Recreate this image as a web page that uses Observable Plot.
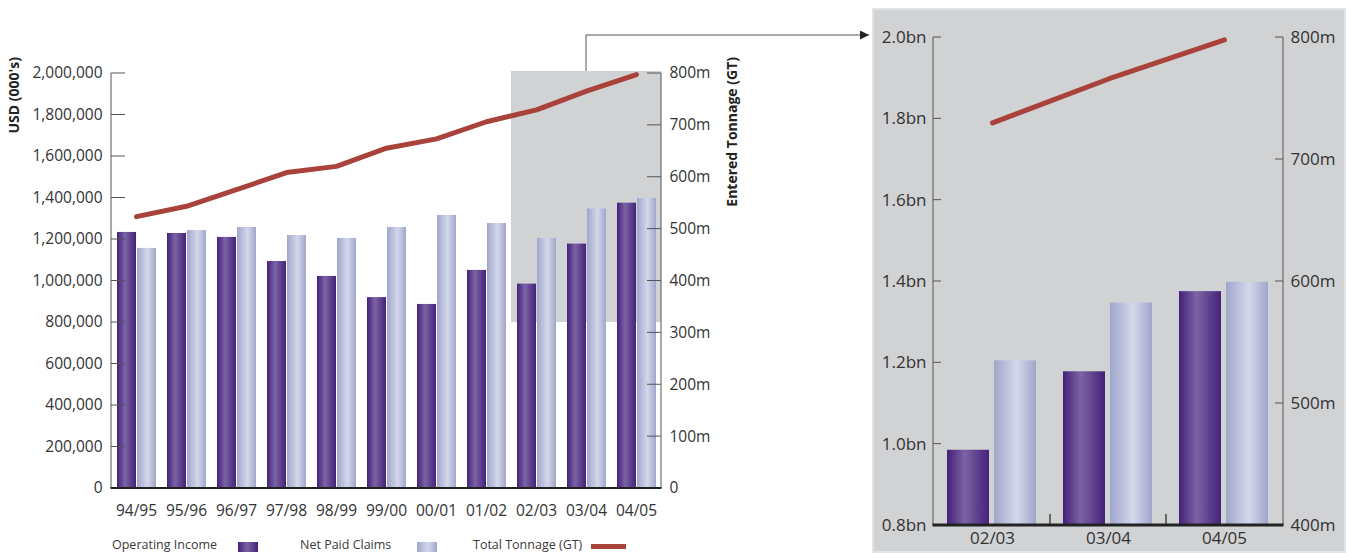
<!DOCTYPE html>
<html><head><meta charset="utf-8">
<script src="https://cdn.jsdelivr.net/npm/d3@7"></script>
<script src="https://cdn.jsdelivr.net/npm/@observablehq/plot@0.6"></script>
<style>
body{margin:0;background:#fff;font-family:"Open Sans",sans-serif;}
#root{position:relative;width:1346px;height:553px;overflow:hidden;background:#fff;}
#left{position:absolute;left:0;top:0;}
#right{position:absolute;left:872px;top:8px;width:474px;height:545px;background:#d1d2d4;box-shadow:inset 0 0 0 2px #e2e3e5;}
#overlay{position:absolute;left:0;top:0;pointer-events:none;}
.lg{position:absolute;top:536px;font-size:12.5px;line-height:18px;color:#3a3a3a;white-space:nowrap;}
.sw{position:absolute;}
</style></head><body><div id="root">
<div id="left"></div>
<div id="right"></div>
<svg id="overlay" width="1346" height="553"></svg>
<div class="lg" style="left:112px">Operating Income</div>
<div class="sw" style="left:238px;top:542px;width:20px;height:10px;background:linear-gradient(90deg,#45217a,#7a63a4 45%,#45217a)"></div>
<div class="lg" style="left:300px">Net Paid Claims</div>
<div class="sw" style="left:417px;top:542px;width:20px;height:10px;background:linear-gradient(90deg,#a1a7cb,#d3d6ea 55%,#a1a7cb)"></div>
<div class="lg" style="left:473px">Total Tonnage (GT)</div>
<div class="sw" style="left:591px;top:544px;width:35px;height:5px;background:#a8423a"></div>
</div>
<script>
// ---- data (USD 000's, tonnage in millions GT) ----
const years = ["94/95","95/96","96/97","97/98","98/99","99/00","00/01","01/02","02/03","03/04","04/05"];
const operatingIncome = [1234000,1229000,1210000,1094000,1022000,920000,887000,1051000,985000,1178000,1375000];
const netPaidClaims = [1157000,1243000,1258000,1219000,1205000,1258000,1316000,1277000,1205000,1347000,1398000];
const tonnage = [524,544,576,609,621,656,674,707,730,766,798];
const zoomYears = ["02/03","03/04","04/05"];
const usdTicks = [0,200000,400000,600000,800000,1000000,1200000,1400000,1600000,1800000,2000000];
const tonnageTicks = [0,100,200,300,400,500,600,700,800];
const usdZoomTicks = [800000,1000000,1200000,1400000,1600000,1800000,2000000];
const tonnageZoomTicks = [400,500,600,700,800];

const data = years.map((year,i)=>({year, income: operatingIncome[i], claims: netPaidClaims[i], tonnage: tonnage[i]}));
const zoomData = data.filter(d => zoomYears.includes(d.year));

const LINE = "#a8423a";
const leftT = t => t * 2500;                     // 0..800m -> 0..2,000,000
const zoomT = t => 800000 + (t - 400) * 3000;     // 400..800m -> 0.8..2.0bn

const defs = () => {
  const d = d3.create("svg:defs");
  const g1 = d.append("linearGradient").attr("id","gDark").attr("x1",0).attr("x2",1).attr("y1",0).attr("y2",0);
  [[0,"#44207a"],[0.42,"#7b64a5"],[1,"#45217a"]].forEach(([o,c])=>g1.append("stop").attr("offset",o).attr("stop-color",c));
  const g2 = d.append("linearGradient").attr("id","gLight").attr("x1",0).attr("x2",1).attr("y1",0).attr("y2",0);
  [[0,"#a0a6cb"],[0.55,"#d4d7eb"],[1,"#a0a6ca"]].forEach(([o,c])=>g2.append("stop").attr("offset",o).attr("stop-color",c));
  return d.node();
};

function deco(opts) {
  return (index, scales, values, dims) => {
    const {width, height, marginLeft, marginRight, marginTop, marginBottom} = dims;
    const x0 = marginLeft, x1 = width - marginRight, yt = marginTop, yb = height - marginBottom;
    const g = d3.create("svg:g");
    g.append("line").attr("x1",x0).attr("x2",x0).attr("y1",yt).attr("y2",yb).attr("stroke","#555");
    g.append("line").attr("x1",x1).attr("x2",x1).attr("y1",yt).attr("y2",yb).attr("stroke","#555");
    for (const t of opts.lt) g.append("line").attr("x1",x0).attr("x2",x0+opts.tick).attr("y1",scales.y(t)).attr("y2",scales.y(t)).attr("stroke","#555");
    for (const t of opts.rt) g.append("line").attr("x1",x1-opts.tick).attr("x2",x1).attr("y1",scales.y(t)).attr("y2",scales.y(t)).attr("stroke","#555");
    g.append("line").attr("x1",x0-0.5).attr("x2",x1+0.5).attr("y1",yb).attr("y2",yb).attr("stroke","#222").attr("stroke-width",opts.base);
    if (opts.sep) for (const c of opts.sep) {
      const xx = scales.x(c);
      g.append("line").attr("x1",xx).attr("x2",xx).attr("y1",yb-11).attr("y2",yb).attr("stroke","#222").attr("stroke-width",1.2);
    }
    if (opts.titles) for (const t of opts.titles) {
      g.append("text").attr("transform",`translate(${t.x},${t.y}) rotate(-90)`).attr("text-anchor","end")
        .attr("dy","0.35em").attr("font-weight","bold").attr("font-size",14).attr("fill","#222").text(t.text);
    }
    return g.node();
  };
}

const left = Plot.plot({
  width: 760, height: 525,
  marginLeft: 111, marginRight: 99, marginTop: 73, marginBottom: 37,
  x: {domain: years, padding: 0, axis: null},
  y: {domain: [0, 2000000], axis: null},
  style: {fontFamily: "Open Sans", fontSize: "15.5px", color: "#333", background: "transparent", overflow: "visible"},
  marks: [
    defs,
    Plot.rectY(zoomYears, {x: d => d, y1: 800000, y2: 2010000, fill: "#d1d2d4", shapeRendering: "crispEdges"}),
    Plot.barY(data, {x: "year", y: "income", fill: "url(#gDark)", insetLeft: 6, insetRight: 25}),
    Plot.barY(data, {x: "year", y: "claims", fill: "url(#gLight)", insetLeft: 26, insetRight: 5}),
    Plot.line(data, {x: "year", y: d => leftT(d.tonnage), stroke: LINE, strokeWidth: 5}),
    Plot.axisY(usdTicks, {anchor: "left", label: null, tickSize: 0, tickPadding: 9, tickFormat: d3.format(","), fill: "#333"}),
    Plot.axisY(tonnageTicks.map(leftT), {anchor: "right", label: null, tickSize: 0, tickPadding: 8, tickFormat: d => d === 0 ? "0" : Math.round(d/2500) + "m", fill: "#333"}),
    Plot.axisX({label: null, tickSize: 0, tickPadding: 16, fill: "#333"}),
    deco({lt: usdTicks, rt: tonnageTicks.map(leftT), tick: 14, base: 2,
      titles: [{x: 14, y: 57, text: "USD (000's)"}, {x: 732, y: 57, text: "Entered Tonnage (GT)"}]})
  ]
});
document.getElementById("left").append(left);

const right = Plot.plot({
  width: 474, height: 545,
  marginLeft: 61, marginRight: 63, marginTop: 29, marginBottom: 28,
  x: {domain: zoomYears, padding: 0, axis: null},
  y: {domain: [800000, 2000000], axis: null},
  style: {fontFamily: "Open Sans", fontSize: "17px", color: "#333", background: "transparent", overflow: "visible"},
  marks: [
    Plot.barY(zoomData, {x: "year", y1: 800000, y2: "income", fill: "url(#gDark)", insetLeft: 13, insetRight: 61}),
    Plot.barY(zoomData, {x: "year", y1: 800000, y2: "claims", fill: "url(#gLight)", insetLeft: 60, insetRight: 14}),
    Plot.line(zoomData, {x: "year", y: d => zoomT(d.tonnage), stroke: LINE, strokeWidth: 5}),
    Plot.axisY(usdZoomTicks, {anchor: "left", label: null, tickSize: 0, tickPadding: 7, tickFormat: d => (d/1e6).toFixed(1) + "bn", fill: "#333"}),
    Plot.axisY(tonnageZoomTicks.map(zoomT), {anchor: "right", label: null, tickSize: 0, tickPadding: 7, tickFormat: d => Math.round((d-800000)/3000 + 400) + "m", fill: "#333"}),
    Plot.axisX({label: null, tickSize: 0, tickPadding: 6, fill: "#333"}),
    deco({lt: usdZoomTicks, rt: tonnageZoomTicks.map(zoomT), tick: 8, base: 3, sep: ["03/04","04/05"]})
  ]
});
document.getElementById("right").append(right);

// connector arrow from highlighted region to zoom panel
const xs = left.scale("x"), ys = left.scale("y");
const ax = (xs.apply("02/03") + xs.range[1]) / 2;
const ay = ys.apply(2010000);
const ov = d3.select("#overlay");
ov.append("defs").append("marker").attr("id","ah").attr("viewBox","0 0 10 10").attr("refX",10).attr("refY",5)
  .attr("markerWidth",13).attr("markerHeight",9).attr("markerUnits","userSpaceOnUse").attr("orient","auto")
  .append("path").attr("d","M0,0L10,5L0,10z").attr("fill","#222");
ov.append("path").attr("d",`M${ax},${ay}V35H869`).attr("fill","none").attr("stroke","#555").attr("stroke-width",1).attr("marker-end","url(#ah)");
</script>
</body></html>
